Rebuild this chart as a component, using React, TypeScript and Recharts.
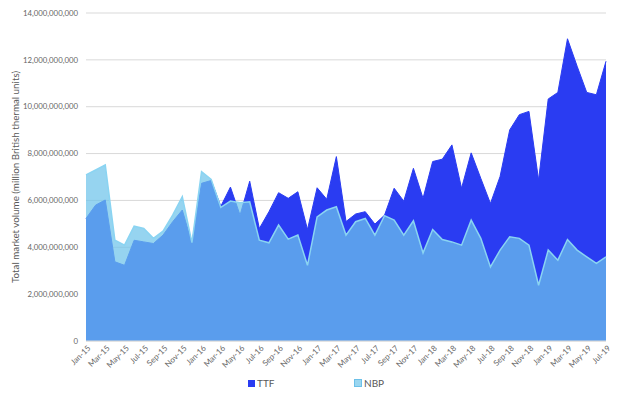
import { AreaChart, Area, XAxis, YAxis, CartesianGrid, Legend } from 'recharts';

const months = [
    'Jan-15', 'Feb-15', 'Mar-15', 'Apr-15', 'May-15', 'Jun-15', 'Jul-15', 'Aug-15', 'Sep-15', 'Oct-15', 'Nov-15', 'Dec-15',
    'Jan-16', 'Feb-16', 'Mar-16', 'Apr-16', 'May-16', 'Jun-16', 'Jul-16', 'Aug-16', 'Sep-16', 'Oct-16', 'Nov-16', 'Dec-16',
    'Jan-17', 'Feb-17', 'Mar-17', 'Apr-17', 'May-17', 'Jun-17', 'Jul-17', 'Aug-17', 'Sep-17', 'Oct-17', 'Nov-17', 'Dec-17',
    'Jan-18', 'Feb-18', 'Mar-18', 'Apr-18', 'May-18', 'Jun-18', 'Jul-18', 'Aug-18', 'Sep-18', 'Oct-18', 'Nov-18', 'Dec-18',
    'Jan-19', 'Feb-19', 'Mar-19', 'Apr-19', 'May-19', 'Jun-19', 'Jul-19',
];

// billions of mmBtu
const ttf = [
    5.23, 5.8, 6.02, 3.38, 3.23, 4.3, 4.23, 4.16, 4.52, 5.09, 5.59, 4.17,
    6.73, 6.85, 5.75, 6.57, 5.37, 6.82, 4.8, 5.52, 6.33, 6.09, 6.37, 4.76,
    6.54, 6.05, 7.87, 5.1, 5.42, 5.52, 4.99, 5.37, 6.52, 5.97, 7.37, 6.09,
    7.66, 7.76, 8.37, 6.52, 8.03, 6.94, 5.87, 7.02, 9.01, 9.66, 9.8, 6.87,
    10.33, 10.61, 12.9, 11.73, 10.61, 10.51, 11.94,
];

const nbp = [
    7.09, 7.3, 7.52, 4.3, 4.09, 4.9, 4.8, 4.38, 4.69, 5.37, 6.16, 4.2,
    7.23, 6.9, 5.7, 5.97, 5.9, 5.94, 4.3, 4.19, 4.95, 4.35, 4.52, 3.23,
    5.3, 5.59, 5.73, 4.52, 5.09, 5.23, 4.52, 5.35, 5.16, 4.52, 5.13, 3.76,
    4.76, 4.33, 4.23, 4.09, 5.16, 4.38, 3.16, 3.88, 4.45, 4.38, 4.09, 2.38,
    3.88, 3.45, 4.33, 3.88, 3.59, 3.31, 3.59,
];

const yTicks = [0, 2e9, 4e9, 6e9, 8e9, 10e9, 12e9, 14e9];

const data = months.map((m, i) => ({
    month: m,
    TTF: ttf[i] * 1e9,
    NBP: nbp[i] * 1e9,
}));

const FONT = 'Lato, "Open Sans", sans-serif';
const TTF_COLOR = '#2A3CF2';
const NBP_COLOR = '#6DC3EA';

const XTick = (props: any) => {
    const { x, y, payload } = props;
    return (
        <g transform={`translate(${x},${y})`}>
            <text x={3} y={4} textAnchor="end" transform="rotate(-45)"
                fontSize={8} fill="#666" fontFamily={FONT}>{payload.value}</text>
        </g>
    );
};

const LegendBox = () => (
    <div style={{ position: 'relative', height: 20, fontFamily: FONT, fontSize: 10, color: '#595959' }}>
        <div style={{ position: 'absolute', left: 248, top: 0, display: 'flex', alignItems: 'center' }}>
            <span style={{ width: 7, height: 7, background: TTF_COLOR, marginRight: 2, display: 'inline-block' }} />
            <span>TTF</span>
        </div>
        <div style={{ position: 'absolute', left: 354, top: 0, display: 'flex', alignItems: 'center' }}>
            <span style={{ width: 6, height: 6, background: '#9AD6F0', border: '0.5px solid #6CC0E8', marginRight: 2, display: 'inline-block' }} />
            <span>NBP</span>
        </div>
    </div>
);

export default function App() {
    return (
        <div style={{ position: 'absolute', left: 0, top: 0, background: '#fff' }}>
            <AreaChart width={618} height={397} data={data}
                margin={{ top: 13, right: 12, left: 0, bottom: 0 }}>
                <CartesianGrid vertical={false} stroke="#D9D9D9" />
                <XAxis dataKey="month" interval={1} tickLine={false} tickSize={0} tickMargin={7}
                    axisLine={{ stroke: '#D9D9D9' }} height={36} tick={<XTick />} />
                <YAxis domain={[0, 14e9]} ticks={yTicks} width={86} axisLine={false} tickLine={false}
                    tickFormatter={(v: number) => v.toLocaleString('en-US')}
                    tick={{ fontSize: 7.8, fill: '#666', fontFamily: FONT }}
                    label={{
                        value: 'Total market volume (million British thermal units)', angle: -90,
                        position: 'insideLeft', offset: 16,
                        style: { textAnchor: 'middle', fontSize: 9.8, fill: '#595959', fontFamily: FONT },
                    }} />
                <Area type="linear" dataKey="TTF" fill={TTF_COLOR} fillOpacity={1} stroke={TTF_COLOR}
                    strokeWidth={1} isAnimationActive={false} dot={false} activeDot={false} />
                <Area type="linear" dataKey="NBP" fill={NBP_COLOR} fillOpacity={0.72} stroke="#8AD4F2"
                    strokeWidth={1.5} isAnimationActive={false} dot={false} activeDot={false} />
                <Legend verticalAlign="bottom" content={<LegendBox />} wrapperStyle={{ left: 0, width: 618 }} />
            </AreaChart>
        </div>
    );
}
